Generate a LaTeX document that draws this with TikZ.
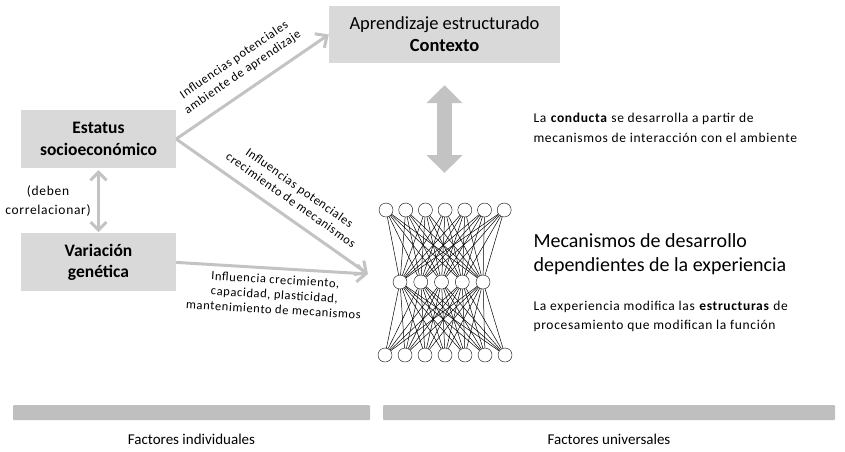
\documentclass[tikz,border=0pt]{standalone}
\usepackage{fontspec}
\setmainfont{Carlito}
\newfontfamily\tracked{Carlito}[LetterSpace=5]
\usetikzlibrary{arrows.meta, positioning}

\definecolor{boxgray}{HTML}{D9D9D9}
\definecolor{arrowgray}{HTML}{C3C3C3}
\definecolor{bargray}{HTML}{BFBFBF}

\begin{document}
\begin{tikzpicture}[
    x=1pt, y=1pt,
    box/.style={fill=boxgray, minimum width=155pt, minimum height=58pt, align=center, font=\fontsize{17.5}{21.5}\selectfont},
    flow/.style={-{Straight Barb[length=9pt, width=17pt]}, line width=3pt, draw=arrowgray},
    unit/.style={circle, draw, minimum size=14pt, inner sep=0pt},
    link/.style={line width=0.5pt},
    lbl/.style={font=\tracked\fontsize{12.5}{15}\selectfont, align=center},
    note/.style={anchor=west, align=left, font=\tracked\fontsize{13.5}{20}\selectfont},
    bar/.style={fill=bargray, rounded corners=1pt, minimum height=15pt, inner sep=0pt},
    caption/.style={font=\fontsize{15}{18}\selectfont}
]
    \useasboundingbox (0,0) rectangle (845,-451);

    \node[box, minimum width=231pt, minimum height=57pt, font=\fontsize{18.5}{22}\selectfont] (ctx) at (444.5,-34.5) {Aprendizaje estructurado\\\textbf{Contexto}};
    \node[box] (ses) at (98.5,-139) {\textbf{Estatus}\\\textbf{socioeconómico}};
    \node[box, below=65pt of ses] (gen) {\textbf{Variación}\\\textbf{genética}};

    % red neuronal
    \foreach \i in {1,...,7} {
        \node[unit] (t\i) at ({386+19.7*(\i-1)},-210) {};
        \node[unit] (b\i) at ({385+20*(\i-1)},-355) {};
    }
    \foreach \j in {1,...,5}
        \node[unit] (m\j) at ({400+20.75*(\j-1)},-282) {};
    \foreach \i in {1,...,7}
        \foreach \j in {1,...,5} {
            \draw[link] (t\i) -- (m\j);
            \draw[link] (m\j) -- (b\i);
        }

    \coordinate (netin) at (368,-274);
    \coordinate (nettop) at (444.5,-173);

    \draw[flow] (ses.east) -- node[sloped, above=7pt, lbl] {Influencias potenciales\\ambiente de aprendizaje} (ctx.west);
    \draw[flow] (ses.east) -- node[sloped, above=7pt, lbl, pos=0.55] {Influencias potenciales\\crecimiento de mecanismos} (netin);
    \draw[flow] (gen.east) -- node[sloped, below=2pt, lbl, pos=0.52] {Influencia crecimiento,\\capacidad, plasticidad,\\mantenimiento de mecanismos} (netin);

    \draw[{Straight Barb[length=8pt, width=16pt]}-{Straight Barb[length=8pt, width=16pt]}, line width=3pt, draw=arrowgray]
        ([yshift=-2pt]ses.south) -- node[left=3pt, lbl, font=\tracked\fontsize{13.5}{19}\selectfont] {(deben\\correlacionar)} ([yshift=1pt]gen.north);

    \draw[{Triangle[length=18pt, width=35pt]}-{Triangle[length=18pt, width=35pt]}, line width=15pt, draw=arrowgray]
        ([yshift=-22pt]ctx.south) -- (nettop);

    % textos
    \node[note] (conducta) at (530,-128)
        {La \textbf{conducta} se desarrolla a partir de\\mecanismos de interacción con el ambiente};
    \node[anchor=west, align=left, font=\fontsize{20}{24}\selectfont] (mecan) at (530,-254)
        {Mecanismos de desarrollo\\dependientes de la experiencia};
    \node[note, font=\tracked\fontsize{13.5}{19}\selectfont] (exper) at (530,-316)
        {La experiencia modifica las \textbf{estructuras} de\\procesamiento que modifican la función};

    % barras
    \node[bar, minimum width=357pt] (barind) at (191.5,-412.5) {};
    \node[bar, minimum width=452pt] (baruni) at (609,-412.5) {};
    \node[caption, below=10pt of barind] (capind) {Factores individuales};
    \node[caption, below=10pt of baruni] (capuni) {Factores universales};
\end{tikzpicture}
\end{document}
